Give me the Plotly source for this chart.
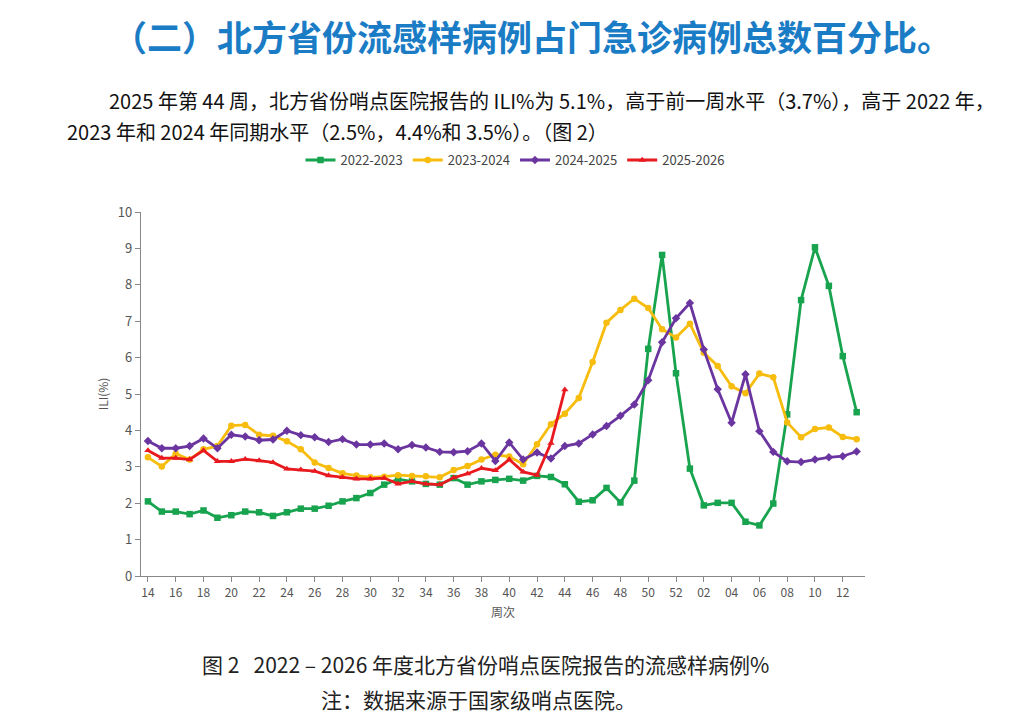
import plotly.graph_objects as go

weeks = [str(w) for w in range(14, 53)] + ["%02d" % w for w in range(1, 14)]

s2022 = [2.05, 1.77, 1.77, 1.70, 1.80, 1.60, 1.67, 1.77, 1.75, 1.65, 1.75, 1.85, 1.85, 1.93, 2.05, 2.14, 2.28,
         2.51, 2.66, 2.60, 2.53, 2.51, 2.69, 2.51, 2.60, 2.64, 2.67, 2.62, 2.75, 2.72, 2.52, 2.04, 2.08, 2.42,
         2.02, 2.62, 6.24, 8.82, 5.57, 2.95, 1.94, 2.01, 2.01, 1.49, 1.39, 1.99, 4.44, 7.58, 9.03, 7.97, 6.04, 4.50]
s2023 = [3.26, 3.01, 3.36, 3.20, 3.48, 3.57, 4.13, 4.15, 3.88, 3.85, 3.70, 3.48, 3.12, 2.97, 2.82, 2.76, 2.71,
         2.73, 2.77, 2.75, 2.74, 2.71, 2.91, 3.02, 3.20, 3.33, 3.28, 3.07, 3.62, 4.17, 4.46, 4.89, 5.88, 6.96,
         7.31, 7.62, 7.36, 6.78, 6.55, 6.93, 6.13, 5.77, 5.21, 5.02, 5.56, 5.46, 4.22, 3.81, 4.04, 4.08, 3.82, 3.76]
s2024 = [3.71, 3.51, 3.51, 3.57, 3.78, 3.51, 3.88, 3.83, 3.73, 3.75, 3.99, 3.87, 3.81, 3.68, 3.76, 3.61, 3.61,
         3.64, 3.48, 3.60, 3.53, 3.41, 3.40, 3.43, 3.64, 3.16, 3.67, 3.20, 3.39, 3.23, 3.57, 3.64, 3.89, 4.12,
         4.40, 4.71, 5.38, 6.42, 7.08, 7.50, 6.22, 5.13, 4.21, 5.54, 3.98, 3.41, 3.15, 3.13, 3.20, 3.26, 3.29, 3.42]
s2025 = [3.45, 3.24, 3.24, 3.20, 3.45, 3.15, 3.15, 3.21, 3.17, 3.12, 2.94, 2.92, 2.88, 2.76, 2.71, 2.67, 2.67,
         2.69, 2.53, 2.60, 2.53, 2.51, 2.70, 2.81, 2.96, 2.90, 3.20, 2.86, 2.77, 3.65, 5.12]

series = [
    ("2022-2023", s2022, "#18a34f", "square"),
    ("2023-2024", s2023, "#f7bd0e", "circle"),
    ("2024-2025", s2024, "#6b35a0", "diamond"),
    ("2025-2026", s2025, "#e8191f", "triangle-up"),
]

FONT = "Noto Sans CJK SC"
fig = go.Figure()
for name, vals, color, sym in series:
    fig.add_trace(go.Scatter(
        x=weeks[:len(vals)], y=vals, name=name, mode="lines+markers",
        line=dict(color=color, width=2.8),
        marker=dict(symbol=sym, size=6.5, color=color),
    ))

L, R = 141, 865
W = R - L


def px(x):
    return (x - L) / W


T, B = 212, 576.5
H = B - T


def py(y):
    return (B - y) / H


fig.update_layout(
    width=1016, height=727,
    margin=dict(l=L, r=1016 - R, t=T, b=727 - B, pad=0),
    paper_bgcolor="white", plot_bgcolor="white",
    font=dict(family=FONT, color="#444"),
    showlegend=True,
    legend=dict(orientation="h", x=px(515), y=py(160), xanchor="center", yanchor="middle",
                font=dict(size=13, color="#444"), itemwidth=30, tracegroupgap=0),
    xaxis=dict(type="category", categoryorder="array", categoryarray=weeks,
               range=[-0.5, 51.6], tickmode="array", tickvals=weeks[::2], ticktext=weeks[::2],
               showline=True, linecolor="#888", linewidth=1.2, ticks="outside", ticklen=5,
               tickcolor="#888", showgrid=False, zeroline=False,
               tickfont=dict(size=12, color="#555"),
               title=dict(text="周次", font=dict(size=12, color="#555"), standoff=10)),
    yaxis=dict(range=[0, 10], dtick=1, showline=True, linecolor="#888", linewidth=1.2,
               ticks="outside", ticklen=5, tickcolor="#888", showgrid=False, zeroline=False,
               tickfont=dict(size=13, color="#555"),
               title=dict(text="ILI(%)", font=dict(size=12, color="#555"), standoff=6)),
)

ann = [
    dict(text="<b>（二）北方省份流感样病例占门急诊病例总数百分比。</b>", x=px(532), y=py(35),
         font=dict(size=35, color="#1b7cc6", family=FONT)),
    dict(text="2025 年第 44 周，北方省份哨点医院报告的 ILI%为 5.1%，高于前一周水平（3.7%），高于 2022 年，",
         x=px(107), y=py(100), xanchor="left", font=dict(size=20, color="#111", family=FONT)),
    dict(text="2023 年和 2024 年同期水平（2.5%，4.4%和 3.5%）。（图 2）",
         x=px(65), y=py(131), xanchor="left", font=dict(size=20, color="#111", family=FONT)),
    dict(text="图 2   2022 – 2026 年度北方省份哨点医院报告的流感样病例%", x=px(485), y=py(665),
         font=dict(size=21, color="#222", family=FONT)),
    dict(text="注：数据来源于国家级哨点医院。", x=px(478), y=py(700),
         font=dict(size=21, color="#222", family=FONT)),
]
for a in ann:
    a.setdefault("xanchor", "center")
    fig.add_annotation(xref="paper", yref="paper", yanchor="middle", showarrow=False, **a)

fig.write_html("out.html")
